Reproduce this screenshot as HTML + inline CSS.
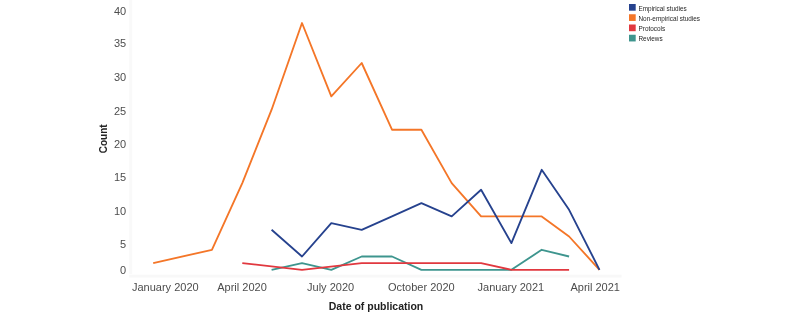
<!DOCTYPE html>
<html><head><meta charset="utf-8"><style>
html,body{margin:0;padding:0;background:#fff;}
body{width:800px;height:315px;overflow:hidden;}
svg{display:block;will-change:transform;}
text{font-family:"Liberation Sans",sans-serif;}
.tk{font-size:11px;fill:#4d4d4d;}
.ax{font-size:10.5px;font-weight:bold;fill:#222;}
.lg{font-size:6.4px;fill:#262626;}
</style></head><body>
<svg width="800" height="315" viewBox="0 0 800 315">
<rect width="800" height="315" fill="#fff"/>
<line x1="130.7" y1="0" x2="130.7" y2="274" stroke="#f9f9f9" stroke-width="3"/>
<line x1="129.2" y1="276.1" x2="621.5" y2="276.1" stroke="#f8f8f8" stroke-width="2.6"/>
<text x="126.2" y="15.2" text-anchor="end" class="tk">40</text>
<text x="126.2" y="47.4" text-anchor="end" class="tk">35</text>
<text x="126.2" y="81.0" text-anchor="end" class="tk">30</text>
<text x="126.2" y="114.5" text-anchor="end" class="tk">25</text>
<text x="126.2" y="147.8" text-anchor="end" class="tk">20</text>
<text x="126.2" y="181.4" text-anchor="end" class="tk">15</text>
<text x="126.2" y="214.8" text-anchor="end" class="tk">10</text>
<text x="126.2" y="248.3" text-anchor="end" class="tk">5</text>
<text x="126.2" y="273.8" text-anchor="end" class="tk">0</text>
<text x="165.3" y="291.0" text-anchor="middle" class="tk">January 2020</text>
<text x="242.0" y="291.0" text-anchor="middle" class="tk">April 2020</text>
<text x="330.6" y="291.0" text-anchor="middle" class="tk">July 2020</text>
<text x="421.3" y="291.0" text-anchor="middle" class="tk">October 2020</text>
<text x="510.9" y="291.0" text-anchor="middle" class="tk">January 2021</text>
<text x="595.2" y="291.0" text-anchor="middle" class="tk">April 2021</text>
<text x="376" y="309.5" text-anchor="middle" class="ax">Date of publication</text>
<text transform="translate(107.4,138.8) rotate(-90)" text-anchor="middle" class="ax" style="font-size:10px">Count</text>
<polyline points="271.6,269.8 302.0,263.1 331.3,269.8 361.7,256.5 392.0,256.5 421.4,269.8 451.7,269.8 481.1,269.8 511.4,269.8 541.7,249.8 569.1,256.5" fill="none" stroke="#3e958e" stroke-width="1.85" stroke-linejoin="round" stroke-linecap="butt"/>
<polyline points="242.3,263.1 302.0,269.8 361.7,263.1 392.0,263.1 421.4,263.1 451.7,263.1 481.1,263.1 511.4,269.8 541.7,269.8 569.1,269.8" fill="none" stroke="#e1383f" stroke-width="1.85" stroke-linejoin="round" stroke-linecap="butt"/>
<polyline points="153.2,263.1 211.9,249.8 242.3,183.1 271.6,109.7 302.0,23.0 331.3,96.4 361.7,63.0 392.0,129.7 421.4,129.7 451.7,183.1 481.1,216.4 511.4,216.4 541.7,216.4 569.1,236.5 599.5,269.8" fill="none" stroke="#f47628" stroke-width="1.85" stroke-linejoin="round" stroke-linecap="butt"/>
<polyline points="271.6,229.8 302.0,256.5 331.3,223.1 361.7,229.8 392.0,216.4 421.4,203.1 451.7,216.4 481.1,189.8 511.4,243.1 541.7,169.8 569.1,209.8 599.5,269.8" fill="none" stroke="#26428e" stroke-width="1.85" stroke-linejoin="round" stroke-linecap="butt"/>
<rect x="629" y="4.00" width="6.7" height="6.7" fill="#26428e"/>
<text x="638.5" y="10.70" class="lg">Empirical studies</text>
<rect x="629" y="14.25" width="6.7" height="6.7" fill="#f47628"/>
<text x="638.5" y="20.95" class="lg">Non-empirical studies</text>
<rect x="629" y="24.50" width="6.7" height="6.7" fill="#e1383f"/>
<text x="638.5" y="31.20" class="lg">Protocols</text>
<rect x="629" y="34.75" width="6.7" height="6.7" fill="#3e958e"/>
<text x="638.5" y="41.45" class="lg">Reviews</text>
</svg>
</body></html>
